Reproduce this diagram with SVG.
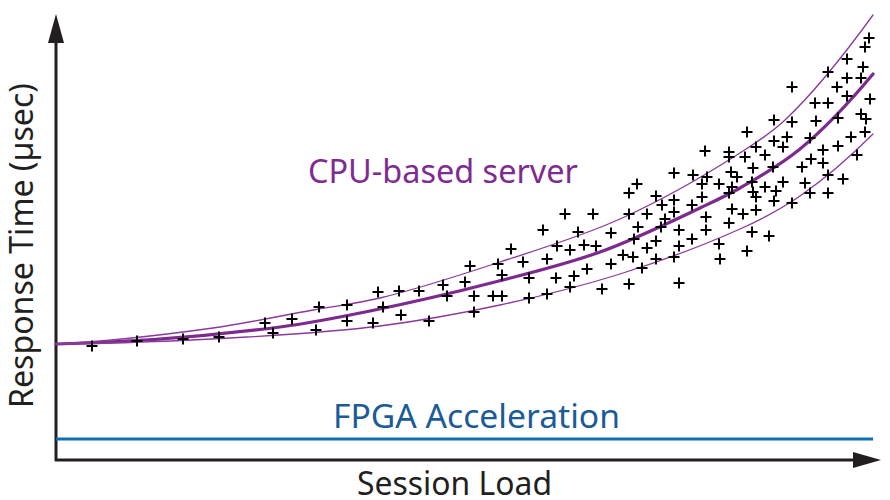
<svg xmlns="http://www.w3.org/2000/svg" xmlns:xlink="http://www.w3.org/1999/xlink" width="890" height="500" viewBox="0 0 890 500">
  <style>
    .axis { stroke: #231f20; stroke-width: 3; fill: none; }
    .arrow { fill: #231f20; }
    .fit { fill: none; stroke: #7d2a8e; stroke-linecap: round; }
    .fit-main { stroke-width: 3.2; }
    .fit-band { stroke-width: 1.3; stroke: #8a3a9c; }
    .fpga { stroke: #0e6cb8; stroke-width: 3; fill: none; }
    .lbl { font-family: "Noto Sans", "Open Sans", "Liberation Sans", sans-serif; font-size: 32px; }
    .axis-lbl { fill: #231f20; }
    .cpu-lbl { fill: #7f2b91; }
    .fpga-lbl { fill: #1a5b98; }
    .pt { stroke: #000; stroke-width: 2; fill: none; }
  </style>
  <defs>
    <path id="plus" d="M-5.5,0H5.5M0,-5.5V5.5"/>
  </defs>
  <rect width="890" height="500" fill="#fff"/>

  <!-- axes -->
  <g id="axes">
    <line class="axis" x1="56" y1="40" x2="56" y2="461"/>
    <line class="axis" x1="55" y1="460" x2="856" y2="460"/>
    <polygon class="arrow" points="56,14 48,43 64,43"/>
    <polygon class="arrow" points="881,460 853,452 853,468"/>
  </g>

  <!-- FPGA response level -->
  <g id="fpga-line">
    <line class="fpga" x1="56" y1="439" x2="873" y2="439"/>
  </g>

  <!-- CPU fit curve and spread band -->
  <g id="cpu-curves">
    <path class="fit fit-main" d="M56,344 C130.7,342.5 205.3,336.7 280,327 C310,323.1 340,317.15 370,311 C411.7,302.5 453.3,292.8 495,282 C530,272.9 565,264.6 600,252 C633.3,240 666.7,223.7 700,208 C713.3,201.7 726.7,195.6 740,188 C760,176.6 780,165.4 800,149 C824.3,129.05 848.7,103.2 873,74"/>
    <path class="fit fit-band" d="M56,344 C108.3,341.4 160.7,335.3 213,328 C246.3,323.3 279.7,316 313,310 C335.3,306 357.7,303.4 380,298 C420,288.4 460,275.2 500,262 C540,248.8 580,237 620,219 C660,201 700,178.6 740,153 C755,143.4 770,134.1 785,120 C814,92.7 844,55 873,15"/>
    <path class="fit fit-band" d="M56,344 C119.7,343.4 183.3,340.8 247,337 C291.3,334.3 335.7,331.8 380,326 C420,320.8 460,313.6 500,305 C540,296.4 580,286.6 620,274 C660,261.4 700,247 740,229 C760,220 780,209.8 800,196 C824.3,179.2 848.7,158.3 873,134"/>
  </g>

  <!-- measured samples -->
  <g id="samples" class="pt">
    <use xlink:href="#plus" x="92" y="346"/>
    <use xlink:href="#plus" x="137" y="341"/>
    <use xlink:href="#plus" x="183" y="339"/>
    <use xlink:href="#plus" x="219" y="337"/>
    <use xlink:href="#plus" x="265" y="323"/>
    <use xlink:href="#plus" x="273" y="333"/>
    <use xlink:href="#plus" x="292" y="319"/>
    <use xlink:href="#plus" x="319" y="307"/>
    <use xlink:href="#plus" x="316" y="330"/>
    <use xlink:href="#plus" x="347" y="305"/>
    <use xlink:href="#plus" x="347" y="321"/>
    <use xlink:href="#plus" x="373" y="323"/>
    <use xlink:href="#plus" x="378" y="292"/>

    <use xlink:href="#plus" x="565" y="214"/>
    <use xlink:href="#plus" x="593" y="214"/>
    <use xlink:href="#plus" x="543" y="230"/>
    <use xlink:href="#plus" x="578" y="232"/>
    <use xlink:href="#plus" x="511" y="249"/>
    <use xlink:href="#plus" x="557" y="246"/>
    <use xlink:href="#plus" x="570" y="250"/>
    <use xlink:href="#plus" x="584" y="245"/>
    <use xlink:href="#plus" x="596" y="246"/>
    <use xlink:href="#plus" x="470" y="266"/>
    <use xlink:href="#plus" x="498" y="264"/>
    <use xlink:href="#plus" x="523" y="262"/>
    <use xlink:href="#plus" x="547" y="259"/>
    <use xlink:href="#plus" x="502" y="275"/>
    <use xlink:href="#plus" x="529" y="278"/>
    <use xlink:href="#plus" x="556" y="278"/>
    <use xlink:href="#plus" x="574" y="276"/>
    <use xlink:href="#plus" x="587" y="269"/>
    <use xlink:href="#plus" x="399" y="291"/>
    <use xlink:href="#plus" x="419" y="291"/>
    <use xlink:href="#plus" x="443" y="285"/>
    <use xlink:href="#plus" x="465" y="282"/>
    <use xlink:href="#plus" x="447" y="296"/>
    <use xlink:href="#plus" x="474" y="296"/>
    <use xlink:href="#plus" x="493" y="296"/>
    <use xlink:href="#plus" x="502" y="296"/>
    <use xlink:href="#plus" x="383" y="307"/>
    <use xlink:href="#plus" x="401" y="315"/>
    <use xlink:href="#plus" x="429" y="321"/>
    <use xlink:href="#plus" x="474" y="312"/>
    <use xlink:href="#plus" x="529" y="298"/>
    <use xlink:href="#plus" x="547" y="294"/>
    <use xlink:href="#plus" x="570" y="287"/>

    <use xlink:href="#plus" x="705" y="151"/>
    <use xlink:href="#plus" x="729" y="152"/>
    <use xlink:href="#plus" x="729" y="157"/>
    <use xlink:href="#plus" x="674" y="173"/>
    <use xlink:href="#plus" x="693" y="175"/>
    <use xlink:href="#plus" x="707" y="177"/>
    <use xlink:href="#plus" x="731" y="172"/>
    <use xlink:href="#plus" x="737" y="177"/>
    <use xlink:href="#plus" x="637" y="184"/>
    <use xlink:href="#plus" x="629" y="193"/>
    <use xlink:href="#plus" x="702" y="184"/>
    <use xlink:href="#plus" x="719" y="184"/>
    <use xlink:href="#plus" x="732" y="187"/>
    <use xlink:href="#plus" x="729" y="193"/>
    <use xlink:href="#plus" x="656" y="196"/>
    <use xlink:href="#plus" x="702" y="197"/>
    <use xlink:href="#plus" x="662" y="205"/>
    <use xlink:href="#plus" x="674" y="200"/>
    <use xlink:href="#plus" x="674" y="212"/>
    <use xlink:href="#plus" x="692" y="205"/>
    <use xlink:href="#plus" x="732" y="209"/>
    <use xlink:href="#plus" x="629" y="214"/>
    <use xlink:href="#plus" x="647" y="214"/>
    <use xlink:href="#plus" x="665" y="219"/>
    <use xlink:href="#plus" x="706" y="217"/>
    <use xlink:href="#plus" x="611" y="233"/>
    <use xlink:href="#plus" x="638" y="227"/>
    <use xlink:href="#plus" x="661" y="227"/>
    <use xlink:href="#plus" x="679" y="230"/>
    <use xlink:href="#plus" x="706" y="230"/>
    <use xlink:href="#plus" x="729" y="223"/>
    <use xlink:href="#plus" x="634" y="239"/>
    <use xlink:href="#plus" x="656" y="241"/>
    <use xlink:href="#plus" x="692" y="239"/>
    <use xlink:href="#plus" x="647" y="248"/>
    <use xlink:href="#plus" x="679" y="246"/>
    <use xlink:href="#plus" x="719" y="244"/>
    <use xlink:href="#plus" x="623" y="255"/>
    <use xlink:href="#plus" x="633" y="257"/>
    <use xlink:href="#plus" x="656" y="259"/>
    <use xlink:href="#plus" x="674" y="257"/>
    <use xlink:href="#plus" x="611" y="264"/>
    <use xlink:href="#plus" x="642" y="268"/>
    <use xlink:href="#plus" x="720" y="259"/>
    <use xlink:href="#plus" x="629" y="284"/>
    <use xlink:href="#plus" x="679" y="283"/>
    <use xlink:href="#plus" x="602" y="289"/>
    <use xlink:href="#plus" x="747" y="251"/>

    <use xlink:href="#plus" x="869" y="38"/>
    <use xlink:href="#plus" x="865" y="47"/>
    <use xlink:href="#plus" x="847" y="59"/>
    <use xlink:href="#plus" x="863" y="67"/>
    <use xlink:href="#plus" x="828" y="72"/>
    <use xlink:href="#plus" x="847" y="78"/>
    <use xlink:href="#plus" x="861" y="78"/>
    <use xlink:href="#plus" x="792" y="87"/>
    <use xlink:href="#plus" x="837" y="87"/>
    <use xlink:href="#plus" x="847" y="96"/>
    <use xlink:href="#plus" x="870" y="99"/>
    <use xlink:href="#plus" x="815" y="103"/>
    <use xlink:href="#plus" x="828" y="103"/>
    <use xlink:href="#plus" x="861" y="114"/>
    <use xlink:href="#plus" x="866" y="119"/>
    <use xlink:href="#plus" x="838" y="118"/>
    <use xlink:href="#plus" x="816" y="121"/>
    <use xlink:href="#plus" x="774" y="120"/>
    <use xlink:href="#plus" x="792" y="122"/>
    <use xlink:href="#plus" x="747" y="132"/>
    <use xlink:href="#plus" x="865" y="132"/>
    <use xlink:href="#plus" x="851" y="137"/>
    <use xlink:href="#plus" x="787" y="137"/>
    <use xlink:href="#plus" x="774" y="141"/>
    <use xlink:href="#plus" x="810" y="138"/>
    <use xlink:href="#plus" x="783" y="147"/>
    <use xlink:href="#plus" x="756" y="147"/>
    <use xlink:href="#plus" x="745" y="157"/>
    <use xlink:href="#plus" x="765" y="155"/>
    <use xlink:href="#plus" x="838" y="146"/>
    <use xlink:href="#plus" x="857" y="155"/>
    <use xlink:href="#plus" x="823" y="150"/>
    <use xlink:href="#plus" x="802" y="167"/>
    <use xlink:href="#plus" x="811" y="159"/>
    <use xlink:href="#plus" x="823" y="163"/>
    <use xlink:href="#plus" x="773" y="167"/>
    <use xlink:href="#plus" x="753" y="168"/>
    <use xlink:href="#plus" x="828" y="175"/>
    <use xlink:href="#plus" x="843" y="179"/>
    <use xlink:href="#plus" x="805" y="183"/>
    <use xlink:href="#plus" x="783" y="182"/>
    <use xlink:href="#plus" x="752" y="182"/>
    <use xlink:href="#plus" x="765" y="187"/>
    <use xlink:href="#plus" x="753" y="192"/>
    <use xlink:href="#plus" x="776" y="191"/>
    <use xlink:href="#plus" x="756" y="197"/>
    <use xlink:href="#plus" x="774" y="201"/>
    <use xlink:href="#plus" x="792" y="203"/>
    <use xlink:href="#plus" x="810" y="193"/>
    <use xlink:href="#plus" x="828" y="193"/>
    <use xlink:href="#plus" x="743" y="214"/>
    <use xlink:href="#plus" x="756" y="210"/>
    <use xlink:href="#plus" x="752" y="232"/>
    <use xlink:href="#plus" x="769" y="236"/>
  </g>

  <!-- labels -->
  <g id="labels">
    <text class="lbl cpu-lbl" x="308" y="183" textLength="270" lengthAdjust="spacingAndGlyphs">CPU-based server</text>
    <text class="lbl fpga-lbl" x="333" y="428" textLength="287" lengthAdjust="spacingAndGlyphs">FPGA Acceleration</text>
    <text class="lbl axis-lbl" x="357" y="495" textLength="195" lengthAdjust="spacingAndGlyphs">Session Load</text>
    <text class="lbl axis-lbl" transform="translate(33,408) rotate(-90)" x="0" y="0" textLength="325" lengthAdjust="spacingAndGlyphs">Response Time (µsec)</text>
  </g>
</svg>
